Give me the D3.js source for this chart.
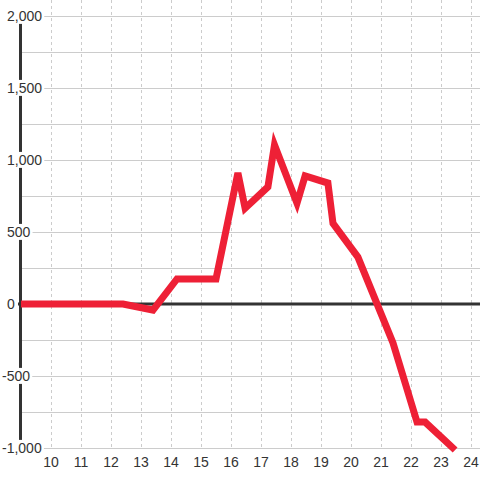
<!DOCTYPE html>
<html>
<head>
<meta charset="utf-8">
<script src="https://cdn.jsdelivr.net/npm/d3@7"></script>
<style>
  body { margin: 0; background: #fff; }
  svg text { font-family: "Liberation Sans", Arial, sans-serif; font-size: 14px; fill: #333; }
</style>
</head>
<body>
<div id="chart"></div>
<script>
// 시간별 값
var hours  = [9, 12.4, 13.4, 14.2, 15.5, 16.23, 16.47, 17.23, 17.45, 18.2, 18.47, 19.23, 19.4, 20.23, 21.4, 22.2, 22.47, 23.47];
var values = [0, 0, -42, 174, 174, 910, 665, 813, 1104, 700, 889, 840, 560, 326, -270, -820, -820, -1014];

var xTicks = [10, 11, 12, 13, 14, 15, 16, 17, 18, 19, 20, 21, 22, 23, 24];
var yTicks = [-1000, -500, 0, 500, 1000, 1500, 2000];
var yGrid  = [-1000, -750, -500, -250, 250, 500, 750, 1000, 1250, 1500, 1750, 2000];

var width = 480, height = 480;

var x = d3.scaleLinear().domain([9, 24.3]).range([21, 480]);
var y = d3.scaleLinear().domain([-1000, 2000]).range([448, 16]);

var svg = d3.select("#chart")
	.append("svg")
	.attr("width", width)
	.attr("height", height);

// 세로 점선 그리드
svg.append("g")
	.selectAll("line")
	.data(xTicks)
	.join("line")
	.attr("x1", function (d) { return x(d) + 0.5; })
	.attr("x2", function (d) { return x(d) + 0.5; })
	.attr("y1", 0)
	.attr("y2", y(-1000))
	.attr("stroke", "#ccc")
	.attr("stroke-dasharray", "3,3");

// 가로 그리드
svg.append("g")
	.selectAll("line")
	.data(yGrid)
	.join("line")
	.attr("x1", 22)
	.attr("x2", width)
	.attr("y1", function (d) { return Math.round(y(d)) + 0.5; })
	.attr("y2", function (d) { return Math.round(y(d)) + 0.5; })
	.attr("stroke", "#ccc");

// y 축 선
svg.append("line")
	.attr("x1", 20.5).attr("x2", 20.5)
	.attr("y1", y(2000)).attr("y2", y(-1000))
	.attr("stroke", "#333")
	.attr("stroke-width", 3);

// y 축 라벨 (흰 배경, 왼쪽 정렬)
var fmt = d3.format(",");
var yLab = svg.append("g")
	.selectAll("g")
	.data(yTicks)
	.join("g");

yLab.append("rect").attr("fill", "#fff");
yLab.append("text")
	.attr("x", function (d) { return d < 0 ? 2 : 7; })
	.attr("y", function (d) { return y(d); })
	.attr("dy", "0.35em")
	.text(function (d) { return fmt(d).replace("−", "-"); });

yLab.each(function () {
	var g = d3.select(this);
	var b = g.select("text").node().getBBox();
	g.select("rect")
		.attr("x", b.x - 1)
		.attr("y", b.y)
		.attr("width", b.width + 3)
		.attr("height", b.height);
});

// 0 기준선
svg.append("line")
	.attr("x1", 18).attr("x2", width)
	.attr("y1", y(0)).attr("y2", y(0))
	.attr("stroke", "#333")
	.attr("stroke-width", 3);

// x 축 라벨
svg.append("g")
	.selectAll("text")
	.data(xTicks)
	.join("text")
	.attr("x", function (d) { return x(d); })
	.attr("y", 467)
	.attr("text-anchor", "middle")
	.text(function (d) { return d; });

// 라인
var points = hours.map(function (h, i) { return [h, values[i]]; });
svg.append("path")
	.datum(points)
	.attr("d", d3.line()
		.x(function (d) { return x(d[0]); })
		.y(function (d) { return y(d[1]); }))
	.attr("fill", "none")
	.attr("stroke", "#ee2036")
	.attr("stroke-width", 7)
	.attr("stroke-linejoin", "miter");
</script>
</body>
</html>
